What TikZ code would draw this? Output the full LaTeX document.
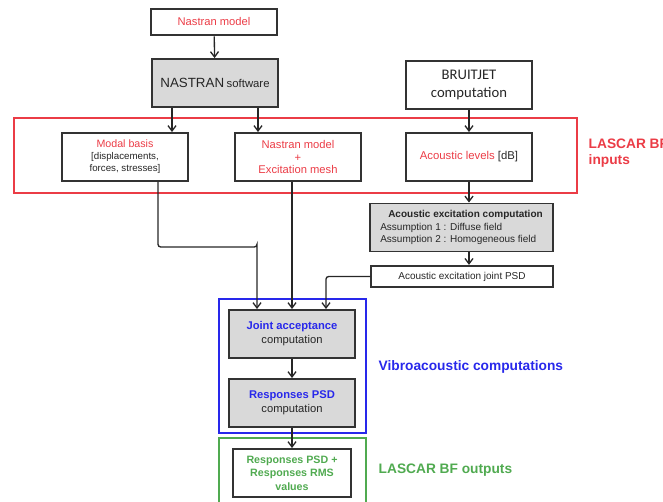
\documentclass[tikz,border=0pt]{standalone}
\usepackage{fontspec}
\setmainfont{Liberation Sans}
\newfontfamily\calib{Carlito}
\usetikzlibrary{arrows.meta}
\definecolor{lred}{RGB}{235,60,70}
\definecolor{lblue}{RGB}{40,40,235}
\definecolor{lgreen}{RGB}{80,170,80}
\tikzset{>/.tip={Straight Barb[length=4pt,width=6pt]},
  blk/.style={draw=black!80, line width=1.4pt, minimum width=95pt, minimum height=36pt,
    align=center, inner sep=1pt, text=black!85, font=\fontsize{7}{8.8}\selectfont},
  grey/.style={blk, fill=black!15},
  frm/.style={line width=1pt},
  lnk/.style={->, line width=1pt, black!85},
  lbl/.style={anchor=west, align=left, font=\bfseries\fontsize{10.3}{12}\selectfont}}

\begin{document}
\begin{tikzpicture}[x=0.75pt,y=-0.75pt]
\clip (0,0) rectangle (663,502);
% frames
\draw[frm, lred] (14,118) rectangle (577,193);
\draw[frm, lblue] (219,299) rectangle (366,433);
\draw[frm, lgreen] (219,438) rectangle (366,520);
\node[lbl, text=lred] (inp) at (584,153) {LASCAR BF\\inputs};
\node[lbl, text=lblue] (vib) at (374,367) {Vibroacoustic computations};
\node[lbl, text=lgreen] (outp) at (374,470) {LASCAR BF outputs};
% boxes
\node[blk, minimum height=20pt, text=lred, font=\fontsize{8.4}{10}\selectfont] (nm) at (214,22) {Nastran model};
\node[grey] (ns) at (215,83) {{\fontsize{10}{12}\selectfont NASTRAN} {\fontsize{8.5}{10}\selectfont software}};
\node[blk, font=\calib\fontsize{11}{13}\selectfont] (bj) at (469,85) {BRUITJET\\computation};
\node[blk, font=\fontsize{7.3}{9}\selectfont] (mb) at (125,157) {\textcolor{lred}{\fontsize{8}{9}\selectfont Modal basis}\\{[}displacements,\\forces, stresses{]}};
\node[blk, text=lred, font=\fontsize{8.4}{9.6}\selectfont] (nx) at (298,157) {Nastran model\\+\\Excitation mesh};
\node[blk, font=\fontsize{8.5}{10}\selectfont] (al) at (469,157) {\textcolor{lred}{Acoustic levels} [dB]};
\node[grey, minimum width=137pt, align=left, font=\fontsize{7.5}{9.2}\selectfont] (aec) at (461.5,227.5)
  {\hspace*{6pt}\textbf{Acoustic excitation computation}\\Assumption~1 : Diffuse field\\Assumption~2 : Homogeneous field};
\node[blk, minimum width=136pt, minimum height=16pt, font=\fontsize{7.5}{9}\selectfont] (psd) at (462,276.5) {Acoustic excitation joint PSD};
\node[grey, font=\fontsize{8.4}{10.5}\selectfont] (ja) at (292,334) {\textcolor{lblue}{\bfseries Joint acceptance}\\computation};
\node[grey, font=\fontsize{8.4}{10.5}\selectfont] (rp) at (292,403) {\textcolor{lblue}{\bfseries Responses PSD}\\computation};
\node[blk, minimum width=88pt, text=lgreen, font=\bfseries\fontsize{8}{10}\selectfont] (out) at (292,473)
  {Responses PSD +\\Responses RMS\\values};
% connectors
\draw[lnk] (nm) -- (ns);
\draw[lnk] ([xshift=-32.25pt]ns.south) -- ([xshift=-32.25pt]ns.south |- mb.north);
\draw[lnk] ([xshift=32.25pt]ns.south) -- ([xshift=32.25pt]ns.south |- nx.north);
\draw[lnk] (bj) -- (al);
\draw[lnk] (al) -- (al |- aec.north);
\draw[lnk] (al |- aec.south) -- (al |- psd.north);
\coordinate (k1) at (257,247);
\draw[lnk, rounded corners=2pt] ([xshift=24.75pt]mb.south) |- (k1) -| ([xshift=-26.25pt]ja.north);
\draw[lnk] ([xshift=-4.5pt]nx.south) -- ([xshift=-4.5pt]nx.south |- ja.north);
\draw[lnk, rounded corners=2pt] (psd.west) -| ([xshift=25.5pt]ja.north);
\draw[lnk] (ja) -- (rp);
\draw[lnk] (rp) -- (out);
\end{tikzpicture}
\end{document}
